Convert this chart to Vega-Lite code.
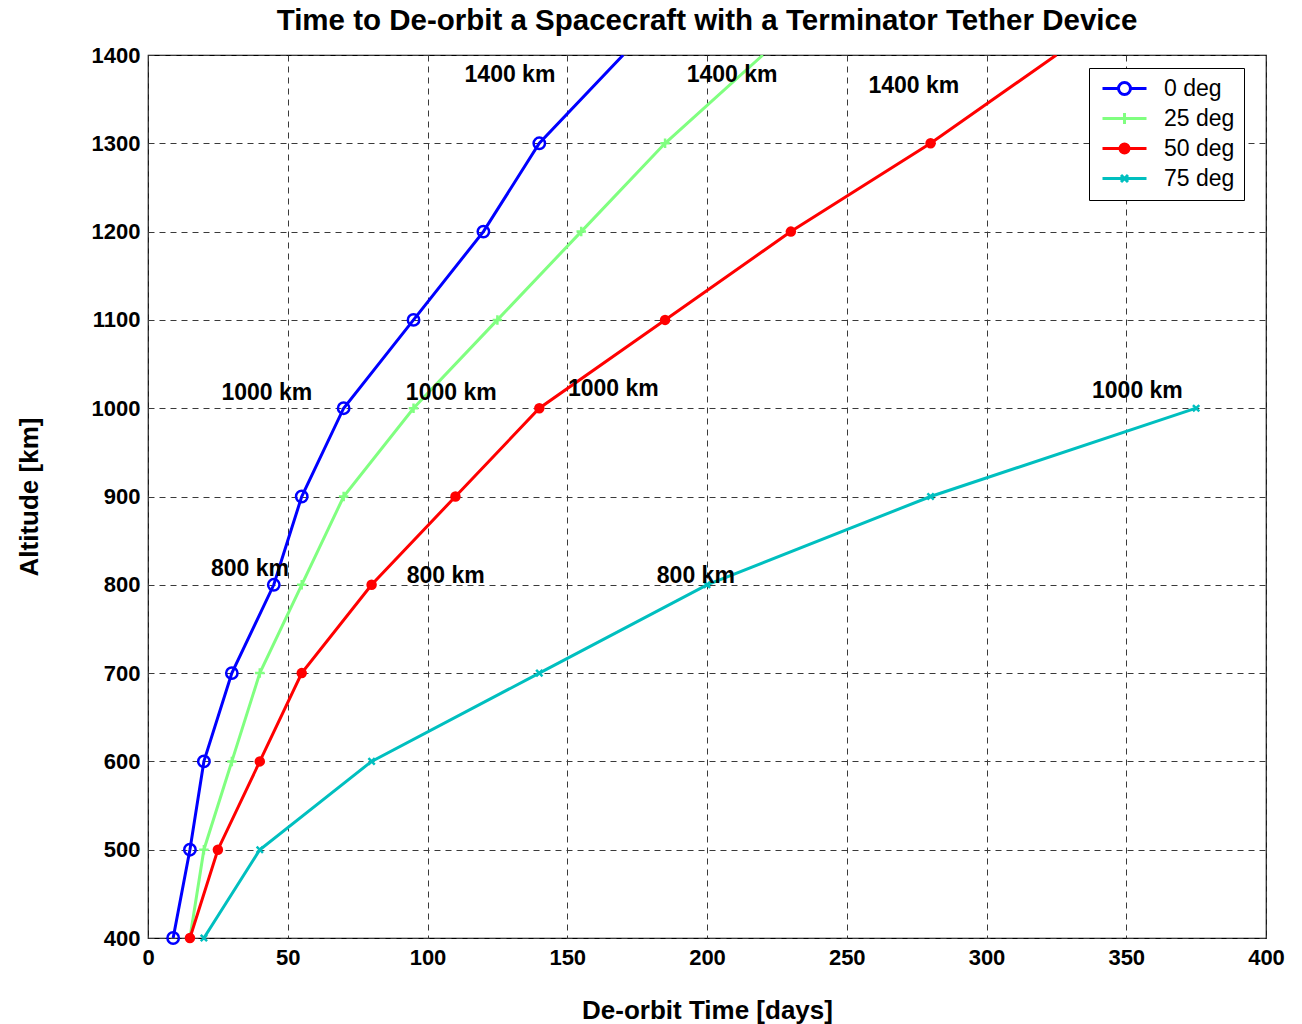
{
  "$schema": "https://vega.github.io/schema/vega-lite/v6.json",
  "width": 1118,
  "height": 883,
  "autosize": {"type": "none"},
  "padding": {"left": 148, "top": 55, "right": 36, "bottom": 86},
  "background": "white",
  "title": {
    "text": "Time to De-orbit a Spacecraft with a Terminator Tether Device",
    "font": "Liberation Sans",
    "fontSize": 29.5,
    "fontWeight": "bold",
    "color": "black",
    "anchor": "middle",
    "offset": 8
  },
  "config": {
    "view": {"stroke": "black", "strokeWidth": 1.2},
    "axis": {
      "grid": true,
      "gridColor": "#3a3a3a",
      "gridDash": [6, 5],
      "gridWidth": 1,
      "gridOpacity": 1,
      "domain": false,
      "ticks": false,
      "labelFlush": false,
      "labelOverlap": false,
      "labelFont": "Liberation Sans",
      "labelFontSize": 22,
      "labelFontWeight": "bold",
      "labelColor": "black",
      "titleFont": "Liberation Sans",
      "titleFontSize": 26,
      "titleFontWeight": "bold",
      "titleColor": "black"
    }
  },
  "datasets": {
    "decay": [
      {"series": "0 deg", "days": 9, "alt": 400},
      {"series": "0 deg", "days": 15, "alt": 500},
      {"series": "0 deg", "days": 20, "alt": 600},
      {"series": "0 deg", "days": 30, "alt": 700},
      {"series": "0 deg", "days": 45, "alt": 800},
      {"series": "0 deg", "days": 55, "alt": 900},
      {"series": "0 deg", "days": 70, "alt": 1000},
      {"series": "0 deg", "days": 95, "alt": 1100},
      {"series": "0 deg", "days": 120, "alt": 1200},
      {"series": "0 deg", "days": 140, "alt": 1300},
      {"series": "0 deg", "days": 170, "alt": 1400},
      {"series": "25 deg", "days": 15, "alt": 400},
      {"series": "25 deg", "days": 20, "alt": 500},
      {"series": "25 deg", "days": 30, "alt": 600},
      {"series": "25 deg", "days": 40, "alt": 700},
      {"series": "25 deg", "days": 55, "alt": 800},
      {"series": "25 deg", "days": 70, "alt": 900},
      {"series": "25 deg", "days": 95, "alt": 1000},
      {"series": "25 deg", "days": 125, "alt": 1100},
      {"series": "25 deg", "days": 155, "alt": 1200},
      {"series": "25 deg", "days": 185, "alt": 1300},
      {"series": "25 deg", "days": 220, "alt": 1400},
      {"series": "50 deg", "days": 15, "alt": 400},
      {"series": "50 deg", "days": 25, "alt": 500},
      {"series": "50 deg", "days": 40, "alt": 600},
      {"series": "50 deg", "days": 55, "alt": 700},
      {"series": "50 deg", "days": 80, "alt": 800},
      {"series": "50 deg", "days": 110, "alt": 900},
      {"series": "50 deg", "days": 140, "alt": 1000},
      {"series": "50 deg", "days": 185, "alt": 1100},
      {"series": "50 deg", "days": 230, "alt": 1200},
      {"series": "50 deg", "days": 280, "alt": 1300},
      {"series": "50 deg", "days": 325, "alt": 1400},
      {"series": "75 deg", "days": 20, "alt": 400},
      {"series": "75 deg", "days": 40, "alt": 500},
      {"series": "75 deg", "days": 80, "alt": 600},
      {"series": "75 deg", "days": 140, "alt": 700},
      {"series": "75 deg", "days": 200, "alt": 800},
      {"series": "75 deg", "days": 280, "alt": 900},
      {"series": "75 deg", "days": 375, "alt": 1000}
    ],
    "notes": [
      {"label": "1400 km", "days": 129.5, "alt": 1377},
      {"label": "1400 km", "days": 209, "alt": 1377},
      {"label": "1400 km", "days": 274, "alt": 1365},
      {"label": "1000 km", "days": 42.5, "alt": 1017},
      {"label": "1000 km", "days": 108.5, "alt": 1017},
      {"label": "1000 km", "days": 166.5, "alt": 1022},
      {"label": "1000 km", "days": 354, "alt": 1019},
      {"label": "800 km", "days": 36.5, "alt": 818},
      {"label": "800 km", "days": 106.5, "alt": 810},
      {"label": "800 km", "days": 196, "alt": 810}
    ]
  },
  "encoding": {
    "x": {
      "field": "days",
      "type": "quantitative",
      "scale": {"domain": [0, 400], "nice": false, "zero": false},
      "axis": {"values": [0, 50, 100, 150, 200, 250, 300, 350, 400], "format": "d", "title": "De-orbit Time [days]", "labelPadding": 9, "titlePadding": 29}
    },
    "y": {
      "field": "alt",
      "type": "quantitative",
      "scale": {"domain": [400, 1400], "nice": false, "zero": false},
      "axis": {"values": [400, 500, 600, 700, 800, 900, 1000, 1100, 1200, 1300, 1400], "format": "d", "title": "Altitude [km]", "labelPadding": 8, "titlePadding": 49}
    }
  },
  "layer": [
    {
      "data": {"name": "decay"},
      "mark": {"type": "line", "strokeWidth": 3, "clip": true},
      "encoding": {
        "color": {
          "field": "series",
          "type": "nominal",
          "sort": ["0 deg", "25 deg", "50 deg", "75 deg"],
          "scale": {"domain": ["0 deg", "25 deg", "50 deg", "75 deg"], "range": ["#0000ff", "#80ff80", "#ff0000", "#00bfbf"]},
          "legend": {
            "orient": "none",
            "legendX": 941,
            "legendY": 13,
            "title": null,
            "strokeColor": "black",
            "fillColor": "white",
            "cornerRadius": 0,
            "padding": 9,
            "labelFont": "Liberation Sans",
            "labelFontSize": 23,
            "labelColor": "black",
            "labelOffset": 28,
            "symbolOffset": 15,
            "symbolSize": 400,
            "symbolStrokeWidth": 3,
            "rowPadding": 6,
            "encode": {
              "symbols": {
                "update": {
                  "shape": {"signal": "datum.value == '0 deg' ? 'M-2.2,0H-0.6M0.6,0H2.2M0.6,0A0.6,0.6 0 1,1 -0.6,0A0.6,0.6 0 1,1 0.6,0' : datum.value == '25 deg' ? 'M-2.2,0H2.2M0,-0.55V0.55' : datum.value == '50 deg' ? 'M-2.2,0H2.2M0.45,0A0.45,0.45 0 1,1 -0.45,0A0.45,0.45 0 1,1 0.45,0' : 'M-2.2,0H2.2M-0.35,-0.35L0.35,0.35M-0.35,0.35L0.35,-0.35'"},
                  "fill": {"signal": "datum.value == '50 deg' ? '#ff0000' : 'transparent'"},
                  "fillOpacity": {"value": 1}
                }
              }
            }
          }
        }
      }
    },
    {
      "data": {"name": "decay"},
      "transform": [{"filter": "datum.series == '0 deg' && datum.alt < 1400"}],
      "mark": {"type": "point", "shape": "circle", "size": 130, "filled": false, "stroke": "#0000ff", "strokeWidth": 2.5, "opacity": 1}
    },
    {
      "data": {"name": "decay"},
      "transform": [{"filter": "datum.series == '25 deg' && datum.alt < 1400"}],
      "mark": {"type": "point", "shape": "M-1,0H1M0,-1V1", "size": 90, "filled": false, "stroke": "#80ff80", "strokeWidth": 2.5, "opacity": 1}
    },
    {
      "data": {"name": "decay"},
      "transform": [{"filter": "datum.series == '50 deg' && datum.alt < 1400"}],
      "mark": {"type": "point", "shape": "circle", "size": 110, "filled": true, "color": "#ff0000", "opacity": 1}
    },
    {
      "data": {"name": "decay"},
      "transform": [{"filter": "datum.series == '75 deg' && datum.alt < 1400"}],
      "mark": {"type": "point", "shape": "M-1,-1L1,1M-1,1L1,-1", "size": 40, "filled": false, "stroke": "#00bfbf", "strokeWidth": 2.5, "opacity": 1}
    },
    {
      "data": {"name": "notes"},
      "mark": {"type": "text", "font": "Liberation Sans", "fontSize": 23, "fontWeight": "bold", "color": "black", "align": "center", "baseline": "middle"},
      "encoding": {"text": {"field": "label"}}
    }
  ]
}
